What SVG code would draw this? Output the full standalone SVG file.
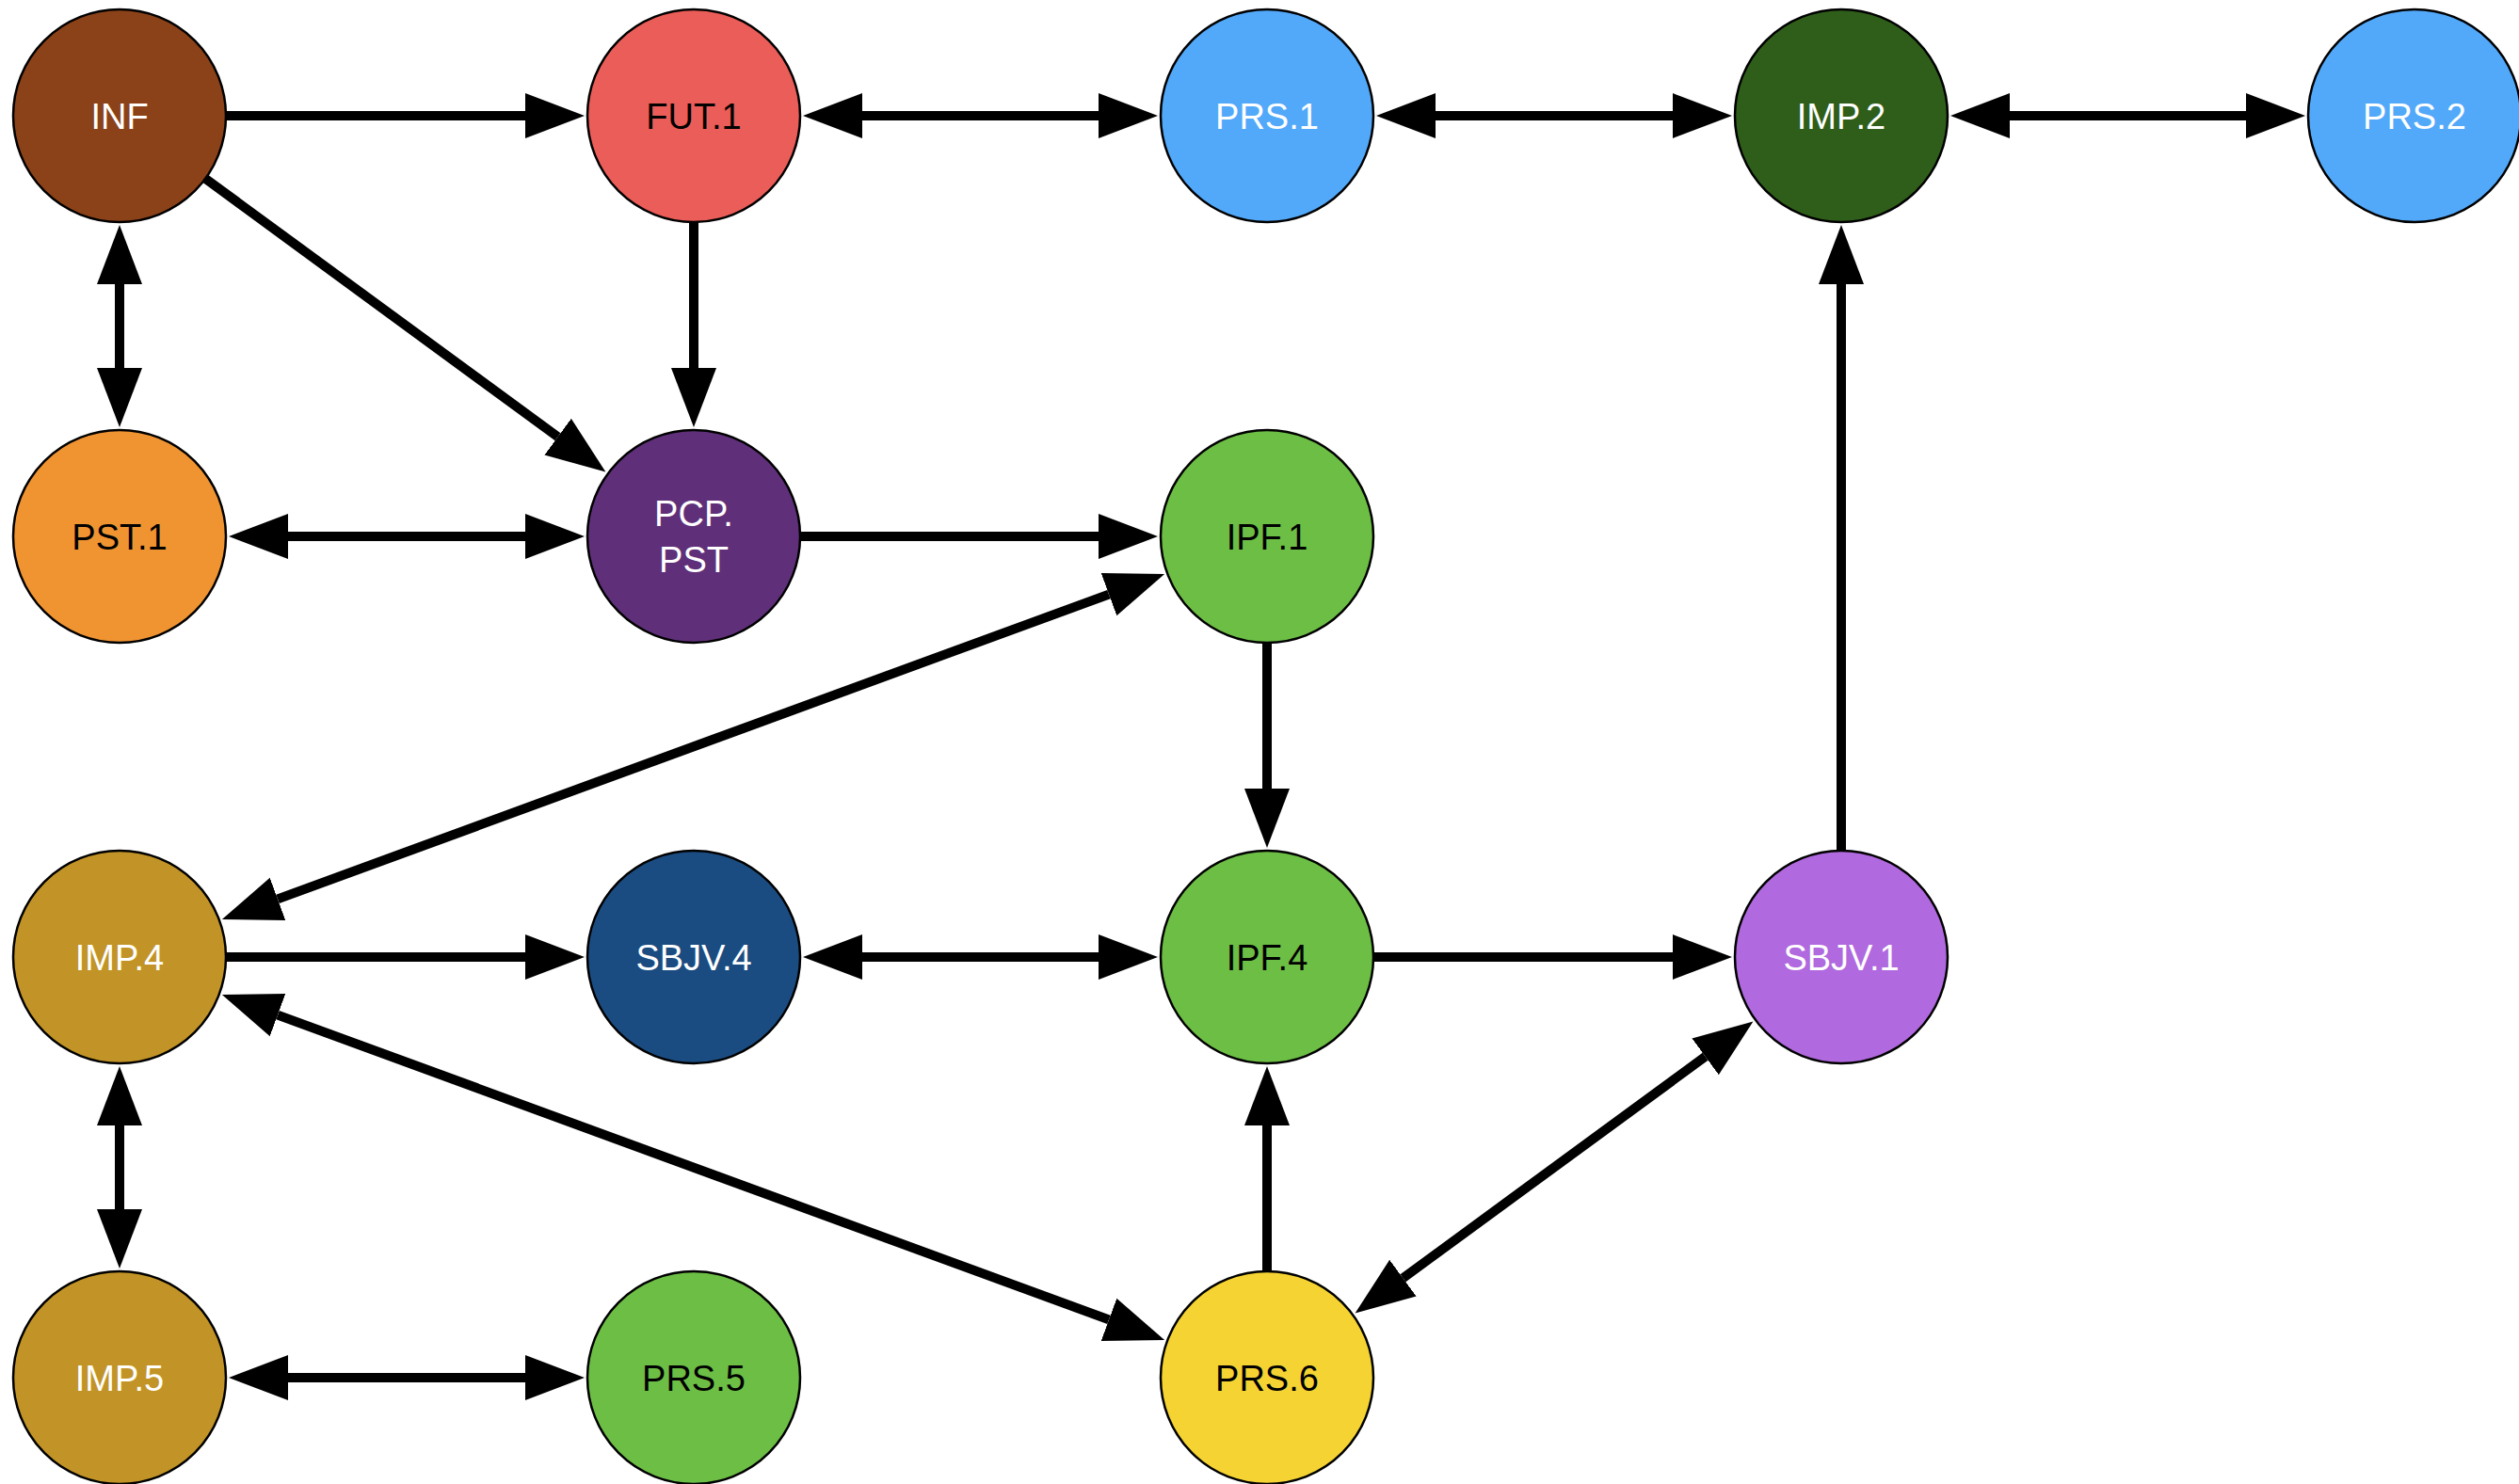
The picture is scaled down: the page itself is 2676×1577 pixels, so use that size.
<svg xmlns="http://www.w3.org/2000/svg" width="2676" height="1577" viewBox="0 0 2676 1577">
  <style>
    .node circle { stroke: #000; stroke-width: 2.5; }
    .node text { font-family: "Liberation Sans", Arial, sans-serif; font-size: 38px; text-anchor: middle; }
    .light { fill: #fff; }
    .dark { fill: #000; }
    .edge { fill: none; stroke: #000; stroke-width: 10; }
    .one { marker-end: url(#head); }
    .two { marker-start: url(#head); marker-end: url(#head); }
  </style>
  <defs>
    <marker id="head" markerUnits="userSpaceOnUse" markerWidth="64" markerHeight="50" refX="0" refY="24" orient="auto-start-reverse" viewBox="0 0 64 48">
      <path d="M0,0 L63,24 L0,48 Z" fill="#000"/>
    </marker>
  </defs>
  <rect width="2676" height="1577" fill="#fff"/>

  <g id="connectors">
    <!-- row 1 -->
    <path class="edge one" d="M240,123 H558"/>
    <path class="edge two" d="M916,123 H1167"/>
    <path class="edge two" d="M1525,123 H1777"/>
    <path class="edge two" d="M2135,123 H2386"/>
    <!-- row 2 -->
    <path class="edge two" d="M306,570 H558"/>
    <path class="edge one" d="M850,570 H1167"/>
    <!-- row 3 -->
    <path class="edge one" d="M240,1017 H558"/>
    <path class="edge two" d="M916,1017 H1167"/>
    <path class="edge one" d="M1459,1017 H1777"/>
    <!-- row 4 -->
    <path class="edge two" d="M306,1464 H558"/>
    <!-- verticals -->
    <path class="edge two" d="M127,302 V391"/>
    <path class="edge one" d="M737,236 V391"/>
    <path class="edge one" d="M1346,683 V838"/>
    <path class="edge one" d="M1956,904 V302"/>
    <path class="edge two" d="M127,1196 V1285"/>
    <path class="edge one" d="M1346,1351 V1196"/>
    <!-- diagonals -->
    <path class="edge one" d="M218.1,189.8 L592.6,464.2"/>
    <path class="edge two" d="M295,955.4 L1178,631.6"/>
    <path class="edge two" d="M295,1078.6 L1178,1402.4"/>
    <path class="edge two" d="M1490.4,1358.2 L1811.6,1122.8"/>
  </g>

  <g id="INF" class="node"><circle cx="127" cy="123" r="113" fill="#8B4219"/><text class="light" x="127" y="137">INF</text></g>
  <g id="FUT.1" class="node"><circle cx="737" cy="123" r="113" fill="#EB5D58"/><text class="dark" x="737" y="137">FUT.1</text></g>
  <g id="PRS.1" class="node"><circle cx="1346" cy="123" r="113" fill="#52A8F9"/><text class="light" x="1346" y="137">PRS.1</text></g>
  <g id="IMP.2" class="node"><circle cx="1956" cy="123" r="113" fill="#2F5E1A"/><text class="light" x="1956" y="137">IMP.2</text></g>
  <g id="PRS.2" class="node"><circle cx="2565" cy="123" r="113" fill="#52A8F9"/><text class="light" x="2565" y="137">PRS.2</text></g>

  <g id="PST.1" class="node"><circle cx="127" cy="570" r="113" fill="#F09432"/><text class="dark" x="127" y="584">PST.1</text></g>
  <g id="PCP.PST" class="node"><circle cx="737" cy="570" r="113" fill="#5F3079"/><text class="light" x="737" y="559">PCP.</text><text class="light" x="737" y="608">PST</text></g>
  <g id="IPF.1" class="node"><circle cx="1346" cy="570" r="113" fill="#6DBE45"/><text class="dark" x="1346" y="584">IPF.1</text></g>

  <g id="IMP.4" class="node"><circle cx="127" cy="1017" r="113" fill="#C29427"/><text class="light" x="127" y="1031">IMP.4</text></g>
  <g id="SBJV.4" class="node"><circle cx="737" cy="1017" r="113" fill="#1B4C81"/><text class="light" x="737" y="1031">SBJV.4</text></g>
  <g id="IPF.4" class="node"><circle cx="1346" cy="1017" r="113" fill="#6DBE45"/><text class="dark" x="1346" y="1031">IPF.4</text></g>
  <g id="SBJV.1" class="node"><circle cx="1956" cy="1017" r="113" fill="#B069DE"/><text class="light" x="1956" y="1031">SBJV.1</text></g>

  <g id="IMP.5" class="node"><circle cx="127" cy="1464" r="113" fill="#C29427"/><text class="light" x="127" y="1478">IMP.5</text></g>
  <g id="PRS.5" class="node"><circle cx="737" cy="1464" r="113" fill="#6DBE45"/><text class="dark" x="737" y="1478">PRS.5</text></g>
  <g id="PRS.6" class="node"><circle cx="1346" cy="1464" r="113" fill="#F4D333"/><text class="dark" x="1346" y="1478">PRS.6</text></g>
</svg>
